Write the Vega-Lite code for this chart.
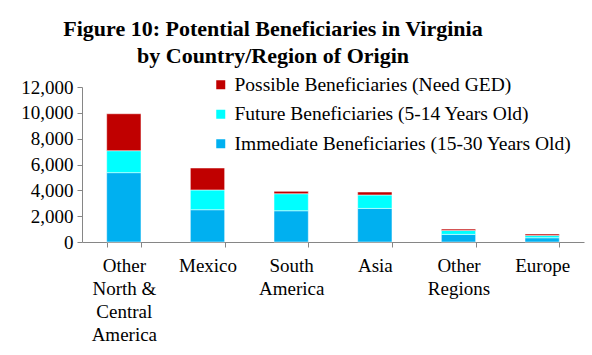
{
  "$schema": "https://vega.github.io/schema/vega-lite/v6.json",
  "width": 502,
  "height": 155,
  "autosize": "none",
  "padding": {"left": 82, "top": 87, "right": 8, "bottom": 113},
  "background": "white",
  "title": {
    "text": ["Figure 10: Potential Beneficiaries in Virginia", "by Country/Region of Origin"],
    "font": "Liberation Serif",
    "fontSize": 22,
    "fontWeight": "bold",
    "color": "black",
    "anchor": "middle",
    "frame": "group",
    "dx": -60,
    "lineHeight": 27,
    "offset": 7
  },
  "data": {
    "values": [
      {"region": "Other North & Central America", "series": "Immediate Beneficiaries (15-30 Years Old)", "ord": 1, "value": 5370},
      {"region": "Other North & Central America", "series": "Future Beneficiaries (5-14 Years Old)", "ord": 2, "value": 1700},
      {"region": "Other North & Central America", "series": "Possible Beneficiaries (Need GED)", "ord": 3, "value": 2860},
      {"region": "Mexico", "series": "Immediate Beneficiaries (15-30 Years Old)", "ord": 1, "value": 2500},
      {"region": "Mexico", "series": "Future Beneficiaries (5-14 Years Old)", "ord": 2, "value": 1530},
      {"region": "Mexico", "series": "Possible Beneficiaries (Need GED)", "ord": 3, "value": 1700},
      {"region": "South America", "series": "Immediate Beneficiaries (15-30 Years Old)", "ord": 1, "value": 2420},
      {"region": "South America", "series": "Future Beneficiaries (5-14 Years Old)", "ord": 2, "value": 1320},
      {"region": "South America", "series": "Possible Beneficiaries (Need GED)", "ord": 3, "value": 180},
      {"region": "Asia", "series": "Immediate Beneficiaries (15-30 Years Old)", "ord": 1, "value": 2600},
      {"region": "Asia", "series": "Future Beneficiaries (5-14 Years Old)", "ord": 2, "value": 1040},
      {"region": "Asia", "series": "Possible Beneficiaries (Need GED)", "ord": 3, "value": 230},
      {"region": "Other Regions", "series": "Immediate Beneficiaries (15-30 Years Old)", "ord": 1, "value": 590},
      {"region": "Other Regions", "series": "Future Beneficiaries (5-14 Years Old)", "ord": 2, "value": 310},
      {"region": "Other Regions", "series": "Possible Beneficiaries (Need GED)", "ord": 3, "value": 100},
      {"region": "Europe", "series": "Immediate Beneficiaries (15-30 Years Old)", "ord": 1, "value": 330},
      {"region": "Europe", "series": "Future Beneficiaries (5-14 Years Old)", "ord": 2, "value": 180},
      {"region": "Europe", "series": "Possible Beneficiaries (Need GED)", "ord": 3, "value": 110}
    ]
  },
  "mark": {"type": "bar", "stroke": "white", "strokeWidth": 0.5},
  "encoding": {
    "x": {
      "field": "region",
      "type": "nominal",
      "sort": ["Other North & Central America", "Mexico", "South America", "Asia", "Other Regions", "Europe"],
      "scale": {"paddingInner": 0.59, "paddingOuter": 0.295},
      "axis": {
        "title": null,
        "labelAngle": 0,
        "labelFont": "Liberation Serif",
        "labelFontSize": 19,
        "labelColor": "black",
        "labelLineHeight": 23,
        "labelPadding": 24,
        "labelBaseline": "alphabetic",
        "labelExpr": "datum.value == 'Other North & Central America' ? ['Other', 'North &', 'Central', 'America'] : datum.value == 'South America' ? ['South', 'America'] : datum.value == 'Other Regions' ? ['Other', 'Regions'] : datum.value",
        "tickBand": "extent",
        "tickSize": 5,
        "tickColor": "#868686",
        "domainColor": "#868686",
        "grid": false
      }
    },
    "y": {
      "field": "value",
      "type": "quantitative",
      "stack": "zero",
      "scale": {"domain": [0, 12000], "nice": false},
      "axis": {
        "title": null,
        "values": [0, 2000, 4000, 6000, 8000, 10000, 12000],
        "format": ",.0f",
        "labelFont": "Liberation Serif",
        "labelFontSize": 19,
        "labelColor": "black",
        "labelPadding": 4,
        "tickSize": 5,
        "tickColor": "#868686",
        "domainColor": "#868686",
        "grid": false
      }
    },
    "order": {"field": "ord", "type": "quantitative"},
    "color": {
      "field": "series",
      "type": "nominal",
      "scale": {
        "domain": ["Possible Beneficiaries (Need GED)", "Future Beneficiaries (5-14 Years Old)", "Immediate Beneficiaries (15-30 Years Old)"],
        "range": ["#C00000", "#00FFFF", "#00B0F0"]
      },
      "legend": {
        "title": null,
        "orient": "none",
        "legendX": 129,
        "legendY": -12,
        "padding": 0,
        "symbolType": "square",
        "symbolSize": 81,
        "symbolStrokeWidth": 0,
        "labelFont": "Liberation Serif",
        "labelFontSize": 19.5,
        "labelColor": "black",
        "labelOffset": 4,
        "rowPadding": 8.5,
        "labelLimit": 400
      }
    }
  },
  "config": {
    "view": {"stroke": null},
    "legend": {"labelFont": "Liberation Serif", "labelFontSize": 19.5, "labelColor": "black"}
  }
}
